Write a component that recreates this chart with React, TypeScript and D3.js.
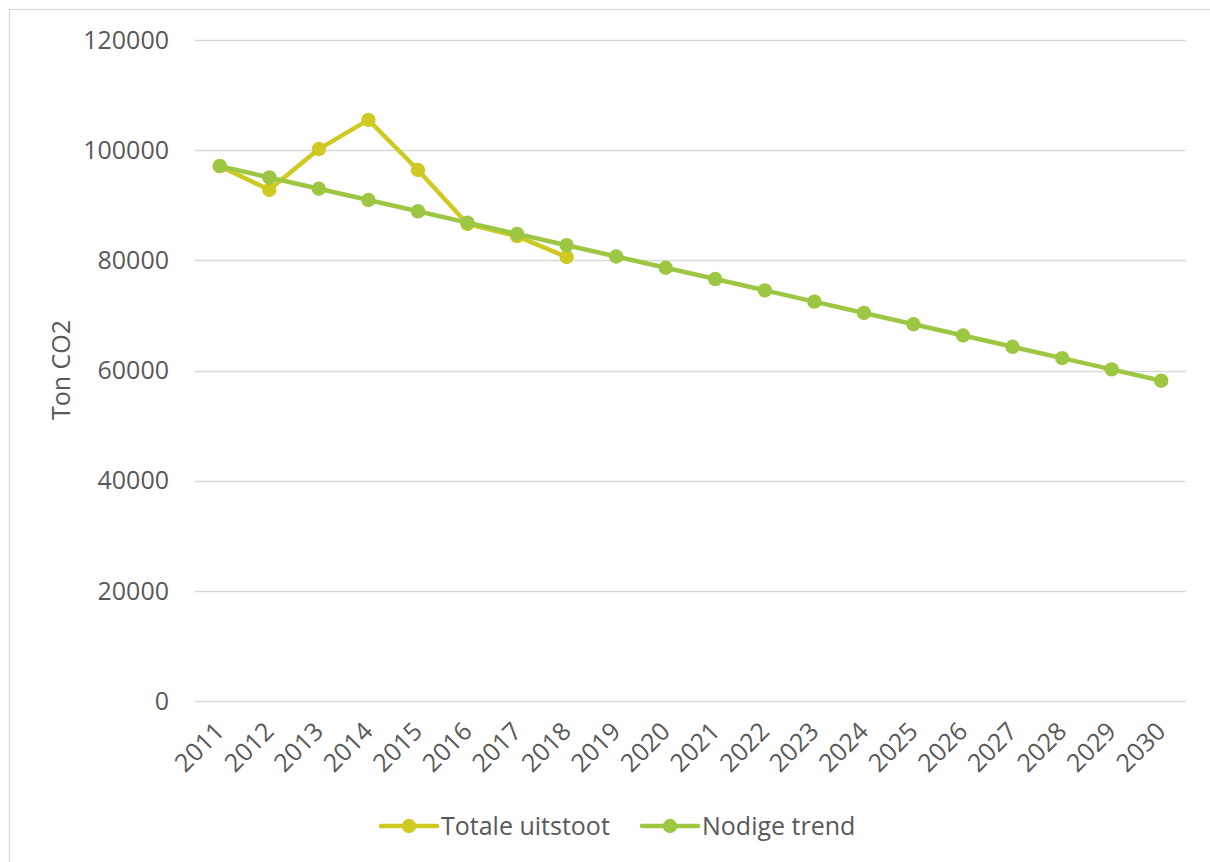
import React, { useRef, useEffect } from 'react';
import * as d3 from 'd3';

const years = ['2011', '2012', '2013', '2014', '2015', '2016', '2017', '2018', '2019', '2020',
    '2021', '2022', '2023', '2024', '2025', '2026', '2027', '2028', '2029', '2030'];

// Totale uitstoot (only 2011-2018 known)
const totaleUitstoot = [97100, 92800, 100200, 105500, 96400, 86600, 84400, 80600];

// Nodige trend
const nodigeTrend = [97100, 95050, 93000, 90950, 88900, 86850, 84800, 82750, 80700, 78650,
    76600, 74550, 72500, 70450, 68400, 66350, 64300, 62250, 60200, 58150];

const yTicks = [0, 20000, 40000, 60000, 80000, 100000, 120000];

const seriesList = [
    { name: 'Totale uitstoot', values: totaleUitstoot, color: '#cfca22' },
    { name: 'Nodige trend', values: nodigeTrend, color: '#9dc743' },
];

const W = 1210;
const H = 862;
const FONT = '"Open Sans", "Noto Sans", sans-serif';
const TEXT = '#595959';
const FS = '25px';

const App = () => {
    const svgRef = useRef(null);

    useEffect(() => {
        const svg = d3.select(svgRef.current);
        svg.selectAll('*').remove();

        const plot = { left: 195, right: 1186, top: 40, bottom: 701 };

        const x = d3.scaleBand().domain(years).range([plot.left, plot.right]);
        const y = d3.scaleLinear().domain([0, 120000]).range([plot.bottom, plot.top]);
        const cx = (yr) => x(yr) + x.bandwidth() / 2;

        // chart frame
        svg.append('rect')
            .attr('x', 9.5).attr('y', 9.5)
            .attr('width', W + 10).attr('height', H + 10)
            .attr('fill', '#fff')
            .attr('stroke', '#d9d9d9')
            .attr('stroke-width', 1.3);

        // gridlines
        svg.append('g')
            .selectAll('line')
            .data(yTicks)
            .join('line')
            .attr('x1', plot.left).attr('x2', plot.right)
            .attr('y1', d => Math.round(y(d)) + 0.5).attr('y2', d => Math.round(y(d)) + 0.5)
            .attr('stroke', '#d9d9d9')
            .attr('stroke-width', 1.3);

        // y tick labels
        svg.append('g')
            .selectAll('text')
            .data(yTicks)
            .join('text')
            .attr('x', 169)
            .attr('y', d => y(d))
            .attr('dy', '0.35em')
            .attr('text-anchor', 'end')
            .style('font-family', FONT)
            .style('font-size', FS)
            .style('fill', TEXT)
            .text(d => d);

        // x tick labels, rotated
        svg.append('g')
            .selectAll('text')
            .data(years)
            .join('text')
            .attr('transform', d => `translate(${cx(d) + 6},${733}) rotate(-45)`)
            .attr('text-anchor', 'end')
            .style('font-family', FONT)
            .style('font-size', FS)
            .style('fill', TEXT)
            .text(d => d);

        // y axis title
        svg.append('text')
            .attr('transform', `translate(70,${370}) rotate(-90)`)
            .attr('text-anchor', 'middle')
            .style('font-family', FONT)
            .style('font-size', FS)
            .style('fill', TEXT)
            .text('Ton CO2');

        const line = d3.line()
            .x((d, i) => cx(years[i]))
            .y(d => y(d));

        seriesList.forEach(s => {
            const g = svg.append('g');
            g.append('path')
                .datum(s.values)
                .attr('fill', 'none')
                .attr('stroke', s.color)
                .attr('stroke-width', 4.5)
                .attr('stroke-linejoin', 'round')
                .attr('d', line);
            g.selectAll('circle')
                .data(s.values)
                .join('circle')
                .attr('cx', (d, i) => cx(years[i]))
                .attr('cy', d => y(d))
                .attr('r', 7.2)
                .attr('fill', s.color);
        });

        // legend
        const legendItems = [
            { x0: 381, tx: 441 },
            { x0: 642, tx: 702 },
        ];
        seriesList.forEach((s, i) => {
            const it = legendItems[i];
            const lg = svg.append('g');
            lg.append('line')
                .attr('x1', it.x0).attr('x2', it.x0 + 56)
                .attr('y1', 826).attr('y2', 826)
                .attr('stroke', s.color)
                .attr('stroke-width', 4.5)
                .attr('stroke-linecap', 'round');
            lg.append('circle')
                .attr('cx', it.x0 + 28).attr('cy', 826)
                .attr('r', 7.2)
                .attr('fill', s.color);
            lg.append('text')
                .attr('x', it.tx).attr('y', 826)
                .attr('dy', '0.35em')
                .style('font-family', FONT)
                .style('font-size', FS)
                .style('fill', TEXT)
                .text(s.name);
        });
    }, []);

    return (
        <svg ref={svgRef} width={W} height={H}
            style={{ position: 'absolute', left: 0, top: 0, background: '#fff' }} />
    );
};

export default App;
